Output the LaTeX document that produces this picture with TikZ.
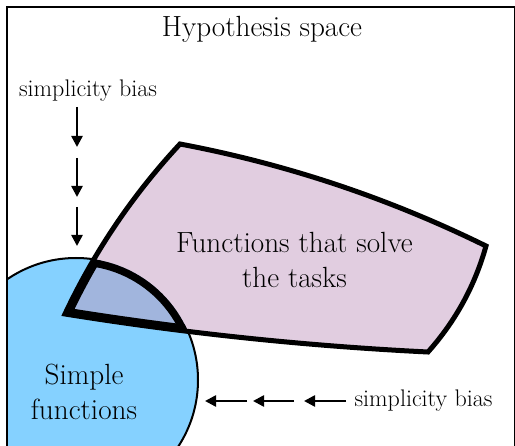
\documentclass[tikz,border=0pt]{standalone}
\usepackage{fontspec}
\usetikzlibrary{arrows.meta}
\definecolor{simpblue}{RGB}{133,209,255}
\definecolor{taskpink}{RGB}{225,205,224}
\definecolor{overlapc}{RGB}{161,181,221}
\tikzset{
  bigtext/.style={font=\fontsize{29.2}{34.5}\selectfont, align=center, inner sep=0pt},
  smalltext/.style={font=\fontsize{24}{28}\selectfont, inner sep=0pt, anchor=base},
  biasarrow/.style={line width=2.5pt, -{Triangle[length=11pt,width=11pt]}},
}
\def\taskpath{(65,314) .. controls (94.5,251.3) and (132.8,194.7) .. (180,144) .. controls (286.6,164.1) and (388.6,198.1) .. (486,246) .. controls (474.9,285.8) and (455.5,321.2) .. (428,352) .. controls (306.3,346.0) and (185.3,333.3) .. cycle}
\def\circpath{(76,380) circle[radius=122]}
\begin{document}
\begin{tikzpicture}[x=1pt,y=-1pt]
\useasboundingbox (0,0) rectangle (515,446);
% simple functions, clipped to the frame
\begin{scope}
  \clip (7,7) rectangle (515,470);
  \fill[simpblue] \circpath;
  \draw[line width=2pt] \circpath;
\end{scope}
% functions that solve the tasks
\fill[taskpink] \taskpath;
% overlap
\begin{scope}
  \clip \taskpath;
  \fill[overlapc] \circpath;
  \clip \circpath;
  \draw[line width=13pt] \taskpath;
  \draw[line width=15pt] \circpath;
\end{scope}
\draw[line width=5pt] \taskpath;
% frame
\draw[line width=2.5pt] (7,470) -- (7,7) -- (515,7) -- (515,470);
% texts
\node[bigtext, anchor=base] (title) at (262,37) {Hypothesis space};
\node[bigtext] (tasks) at (294.5,260) {Functions that solve\\the tasks};
\node[bigtext] (simple) at (84,392) {Simple\\functions};
\node[smalltext] (biastop) at (88,97) {simplicity bias};
\node[smalltext] (biasright) at (423.5,407) {simplicity bias};
% vertical arrows
\coordinate (v1s) at (77,107); \coordinate (v1e) at (77,147);
\coordinate (v2s) at (77,158); \coordinate (v2e) at (77,197);
\coordinate (v3s) at (77,207); \coordinate (v3e) at (77,246);
\draw[biasarrow] (v1s) -- (v1e);
\draw[biasarrow] (v2s) -- (v2e);
\draw[biasarrow] (v3s) -- (v3e);
% horizontal arrows
\coordinate (h1s) at (346,401); \coordinate (h1e) at (304,401);
\coordinate (h2s) at (294,401); \coordinate (h2e) at (253,401);
\coordinate (h3s) at (247,401); \coordinate (h3e) at (205,401);
\draw[biasarrow] (h1s) -- (h1e);
\draw[biasarrow] (h2s) -- (h2e);
\draw[biasarrow] (h3s) -- (h3e);
\end{tikzpicture}
\end{document}
